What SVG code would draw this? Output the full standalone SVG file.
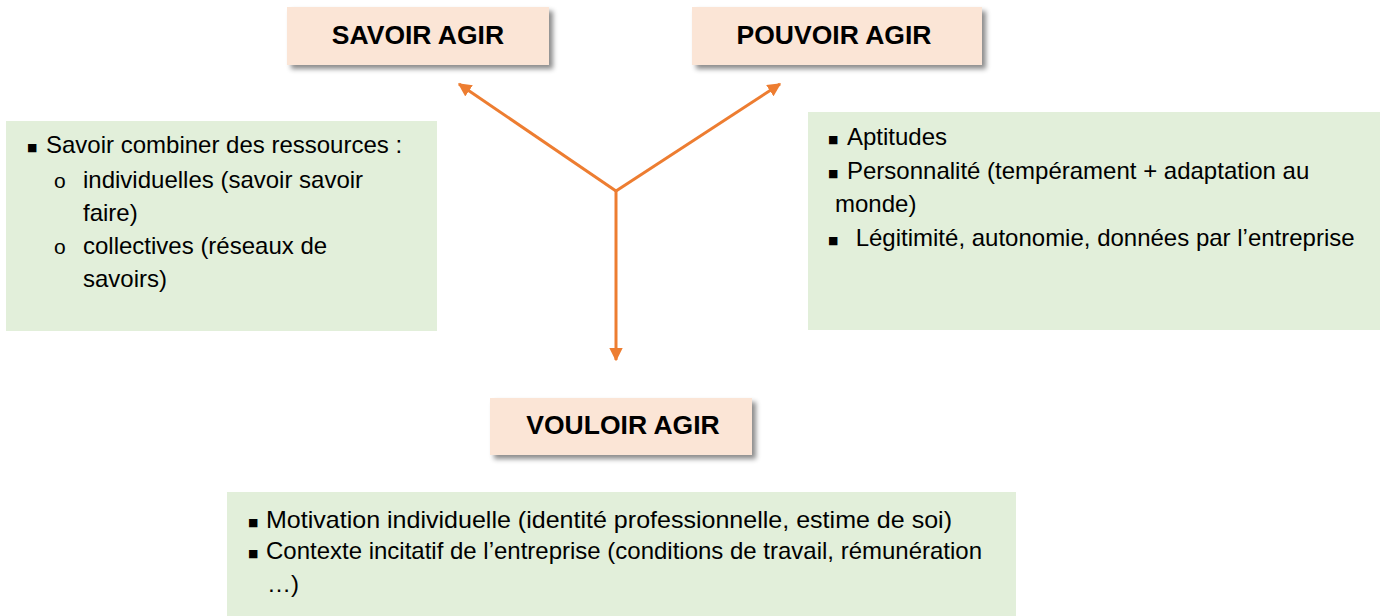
<svg xmlns="http://www.w3.org/2000/svg" width="1383" height="616" viewBox="0 0 1383 616">
<style>
.title{fill:#FBE5D6;filter:url(#sh)}
.green{fill:#E2EFDA}
.tt{font-family:"Liberation Sans",Arial,sans-serif;font-weight:bold;font-size:26.5px;fill:#000;text-anchor:middle}
.tx{font-family:"Liberation Sans",Arial,sans-serif;font-size:24px;fill:#000}
.bl{font-family:"DejaVu Sans",sans-serif;font-size:11px;fill:#000}
.ob{font-family:"Liberation Sans",Arial,sans-serif;font-size:21px;fill:#000}
.con{stroke:#ED7D31;stroke-width:3;fill:none}
</style>
<defs>
<filter id="sh" x="-10%" y="-20%" width="125%" height="160%">
<feDropShadow dx="4" dy="4" stdDeviation="2.5" flood-color="#000" flood-opacity="0.45"/>
</filter>
<marker id="ah" viewBox="0 0 10 10" refX="9" refY="5" markerWidth="4.5" markerHeight="4.5" orient="auto" markerUnits="strokeWidth">
<path d="M0,0 L10,5 L0,10 Z" fill="#ED7D31"/>
</marker>
</defs>

<g id="savoir-agir">
<rect class="title" x="287" y="7" width="262" height="58"/>
<text class="tt" x="418" y="44">SAVOIR AGIR</text>
</g>

<g id="pouvoir-agir">
<rect class="title" x="692" y="7" width="290" height="58"/>
<text class="tt" x="834" y="44">POUVOIR AGIR</text>
</g>

<g id="vouloir-agir">
<rect class="title" x="490" y="398" width="262" height="57"/>
<text class="tt" x="623" y="434">VOULOIR AGIR</text>
</g>

<g id="savoir-details">
<rect class="green" x="6" y="121" width="431" height="210"/>
<text class="bl" x="27" y="151">■</text>
<text class="tx" x="46" y="153">Savoir combiner des ressources :</text>
<text class="ob" x="54" y="188">o</text>
<text class="tx" x="83" y="188">individuelles (savoir savoir</text>
<text class="tx" x="83" y="221">faire)</text>
<text class="ob" x="54" y="254">o</text>
<text class="tx" x="83" y="254">collectives (réseaux de</text>
<text class="tx" x="83" y="287">savoirs)</text>
</g>

<g id="pouvoir-details">
<rect class="green" x="808" y="112" width="572" height="218"/>
<text class="bl" x="828" y="143">■</text>
<text class="tx" x="847" y="145">Aptitudes</text>
<text class="bl" x="828" y="177">■</text>
<text class="tx" x="847" y="179">Personnalité (tempérament + adaptation au</text>
<text class="tx" x="835" y="212">monde)</text>
<text class="bl" x="828" y="244">■</text>
<text class="tx" x="849" y="246" xml:space="preserve"> Légitimité, autonomie, données par l’entreprise</text>
</g>

<g id="vouloir-details">
<rect class="green" x="227" y="492" width="789" height="124"/>
<text class="bl" x="248" y="526">■</text>
<text class="tx" x="266" y="528" textLength="686" lengthAdjust="spacingAndGlyphs">Motivation individuelle (identité professionnelle, estime de soi)</text>
<text class="bl" x="248" y="557">■</text>
<text class="tx" x="266" y="559" textLength="716" lengthAdjust="spacingAndGlyphs">Contexte incitatif de l’entreprise (conditions de travail, rémunération</text>
<text class="tx" x="267" y="592">…)</text>
</g>

<g id="connectors">
<line class="con" x1="616" y1="191" x2="459" y2="84" marker-end="url(#ah)"/>
<line class="con" x1="616" y1="191" x2="780" y2="84" marker-end="url(#ah)"/>
<line class="con" x1="616" y1="190" x2="616" y2="360" marker-end="url(#ah)"/>
</g>
</svg>
